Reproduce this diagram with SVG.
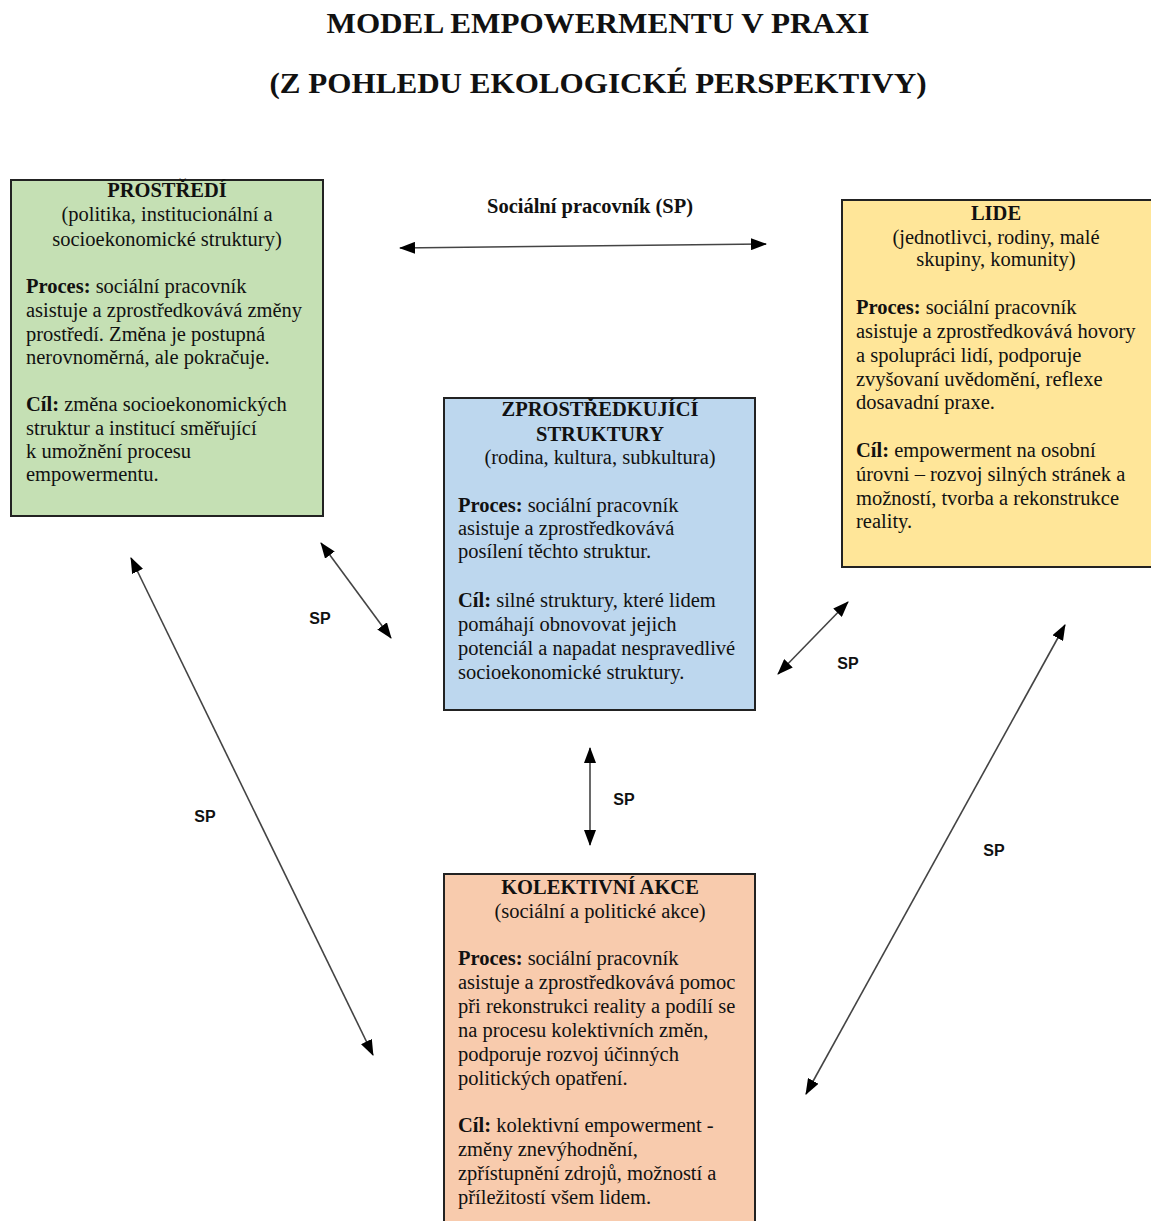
<svg xmlns="http://www.w3.org/2000/svg" width="1151" height="1221" viewBox="0 0 1151 1221">
<defs>
<style>
.t{font-family:"Liberation Serif","Times New Roman",serif;font-weight:bold;fill:#111;}
.b{font-family:"Liberation Serif","Times New Roman",serif;font-size:20.5px;fill:#111;}
.h{font-weight:bold;text-anchor:middle;}
.c{text-anchor:middle;}
.k{font-weight:bold;}
.sp{font-family:"Liberation Sans",Arial,sans-serif;font-weight:bold;font-size:16px;fill:#111;text-anchor:middle;}
.box{stroke:#222;stroke-width:2;}
.con{stroke:#444;stroke-width:1.6;fill:none;marker-start:url(#ah);marker-end:url(#ah);}
</style>
<marker id="ah" markerUnits="userSpaceOnUse" markerWidth="16" markerHeight="12" refX="15" refY="6" orient="auto-start-reverse">
<path d="M0,0 L16,6 L0,12 z" fill="#000"/>
</marker>
</defs>
<rect width="1151" height="1221" fill="#fff"/>
<g id="title">
<text class="t" x="598" y="33" font-size="30" text-anchor="middle" textLength="543" lengthAdjust="spacingAndGlyphs">MODEL EMPOWERMENTU V PRAXI</text>
<text class="t" x="598" y="93" font-size="30" text-anchor="middle" textLength="657" lengthAdjust="spacingAndGlyphs">(Z POHLEDU EKOLOGICKÉ PERSPEKTIVY)</text>
</g>
<g id="connectors">
<line class="con" x1="400" y1="248" x2="766" y2="244"/>
<line class="con" x1="321" y1="543" x2="391" y2="638"/>
<line class="con" x1="778" y1="674" x2="848" y2="602"/>
<line class="con" x1="590" y1="748" x2="590" y2="845"/>
<line class="con" x1="131" y1="558" x2="373" y2="1055"/>
<line class="con" x1="1065" y1="625" x2="806" y2="1094"/>
<text class="b k" x="590" y="213" text-anchor="middle" textLength="206" lengthAdjust="spacingAndGlyphs">Sociální pracovník (SP)</text>
<text class="sp" x="320" y="624">SP</text>
<text class="sp" x="848" y="669">SP</text>
<text class="sp" x="624" y="805">SP</text>
<text class="sp" x="205" y="822">SP</text>
<text class="sp" x="994" y="856">SP</text>
</g>
<g id="prostredi">
<rect class="box" x="11" y="180" width="312" height="336" fill="#C5E0B4"/>
<text class="b h" x="167" y="197">PROSTŘEDÍ</text>
<text class="b c" x="167" y="221">(politika, institucionální a</text>
<text class="b c" x="167" y="246">socioekonomické struktury)</text>
<text class="b" x="26" y="293"><tspan class="k">Proces:</tspan> sociální pracovník</text>
<text class="b" x="26" y="317">asistuje a zprostředkovává změny</text>
<text class="b" x="26" y="341">prostředí. Změna je postupná</text>
<text class="b" x="26" y="364">nerovnoměrná, ale pokračuje.</text>
<text class="b" x="26" y="411"><tspan class="k">Cíl:</tspan> změna socioekonomických</text>
<text class="b" x="26" y="435">struktur a institucí směřující</text>
<text class="b" x="26" y="458">k umožnění procesu</text>
<text class="b" x="26" y="481">empowermentu.</text>
</g>
<g id="lide">
<rect class="box" x="842" y="200" width="320" height="367" fill="#FFE699"/>
<text class="b h" x="996" y="220">LIDE</text>
<text class="b c" x="996" y="244">(jednotlivci, rodiny, malé</text>
<text class="b c" x="996" y="266">skupiny, komunity)</text>
<text class="b" x="856" y="314"><tspan class="k">Proces:</tspan> sociální pracovník</text>
<text class="b" x="856" y="338">asistuje a zprostředkovává hovory</text>
<text class="b" x="856" y="362">a spolupráci lidí, podporuje</text>
<text class="b" x="856" y="386">zvyšovaní uvědomění, reflexe</text>
<text class="b" x="856" y="409">dosavadní praxe.</text>
<text class="b" x="856" y="457"><tspan class="k">Cíl:</tspan> empowerment na osobní</text>
<text class="b" x="856" y="481">úrovni – rozvoj silných stránek a</text>
<text class="b" x="856" y="505">možností, tvorba a rekonstrukce</text>
<text class="b" x="856" y="528">reality.</text>
</g>
<g id="zprostredkujici">
<rect class="box" x="444" y="398" width="311" height="312" fill="#BDD7EE"/>
<text class="b h" x="600" y="416">ZPROSTŘEDKUJÍCÍ</text>
<text class="b h" x="600" y="441">STRUKTURY</text>
<text class="b c" x="600" y="464">(rodina, kultura, subkultura)</text>
<text class="b" x="458" y="512"><tspan class="k">Proces:</tspan> sociální pracovník</text>
<text class="b" x="458" y="535">asistuje a zprostředkovává</text>
<text class="b" x="458" y="558">posílení těchto struktur.</text>
<text class="b" x="458" y="607"><tspan class="k">Cíl:</tspan> silné struktury, které lidem</text>
<text class="b" x="458" y="631">pomáhají obnovovat jejich</text>
<text class="b" x="458" y="655">potenciál a napadat nespravedlivé</text>
<text class="b" x="458" y="679">socioekonomické struktury.</text>
</g>
<g id="kolektivni-akce">
<rect class="box" x="444" y="874" width="311" height="360" fill="#F8CBAD"/>
<text class="b h" x="600" y="894">KOLEKTIVNÍ AKCE</text>
<text class="b c" x="600" y="918">(sociální a politické akce)</text>
<text class="b" x="458" y="965"><tspan class="k">Proces:</tspan> sociální pracovník</text>
<text class="b" x="458" y="989">asistuje a zprostředkovává pomoc</text>
<text class="b" x="458" y="1013">při rekonstrukci reality a podílí se</text>
<text class="b" x="458" y="1037">na procesu kolektivních změn,</text>
<text class="b" x="458" y="1061">podporuje rozvoj účinných</text>
<text class="b" x="458" y="1085">politických opatření.</text>
<text class="b" x="458" y="1132"><tspan class="k">Cíl:</tspan> kolektivní empowerment -</text>
<text class="b" x="458" y="1156">změny znevýhodnění,</text>
<text class="b" x="458" y="1180">zpřístupnění zdrojů, možností a</text>
<text class="b" x="458" y="1204">příležitostí všem lidem.</text>
</g>
</svg>
